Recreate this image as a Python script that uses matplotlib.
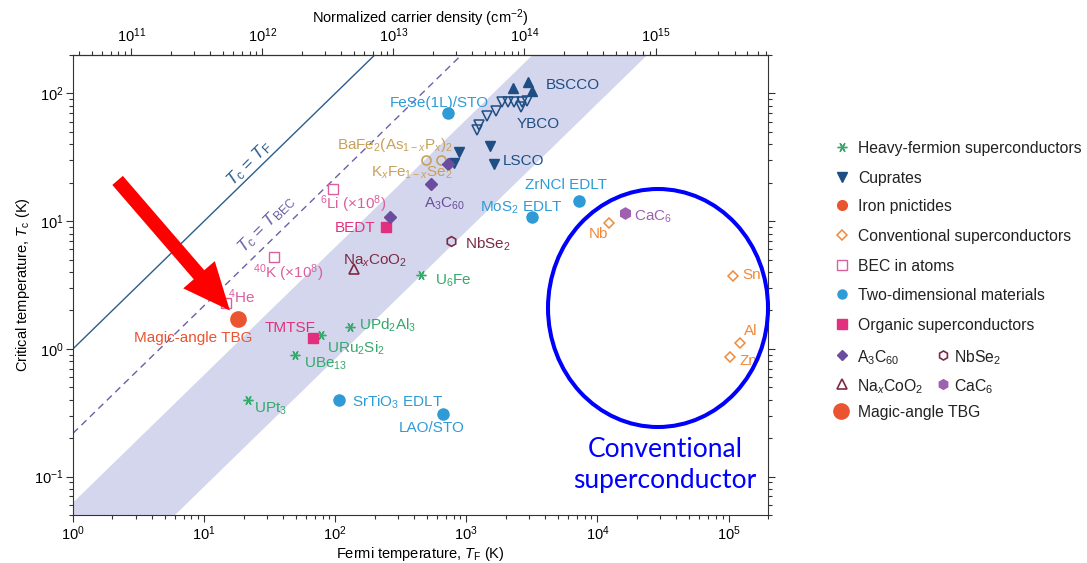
import numpy as np
import matplotlib
matplotlib.use('Agg')
import matplotlib.pyplot as plt
from matplotlib.patches import Ellipse

plt.rcParams['font.family'] = ['Liberation Sans', 'DejaVu Sans']
plt.rcParams['mathtext.fontset'] = 'custom'
plt.rcParams['mathtext.rm'] = 'Liberation Sans'
plt.rcParams['mathtext.it'] = 'Liberation Sans:italic'
plt.rcParams['mathtext.bf'] = 'Liberation Sans:bold'

# Fermi temperature T_F (K) and critical temperature Tc (K)
heavy_tf = [21.6, 49.5, 78, 130, 454]
heavy_tc = [0.40, 0.90, 1.29, 1.49, 3.79]

bscco_tf = [2285, 2933, 3147]
bscco_tc = [111, 122, 105]
ybco_tf = [1202, 1259, 1442, 1676, 1862, 2066, 2323, 2641, 2884, 2613]
ybco_tc = [52, 57, 67, 73, 85.5, 85.5, 85.5, 85.5, 88, 78]
lsco_tf = [800, 883, 1520, 1638]
lsco_tc = [28.5, 34.8, 38.5, 28.2]

pnictide_tf = [492, 637]
pnictide_tc = [30.3, 30.3]

conv_tf = [12200, 1.09e5, 1.23e5, 1.02e5]
conv_tc = [9.7, 3.72, 1.12, 0.87]

bec_tf = [96.8, 34.3, 14.7]
bec_tc = [17.7, 5.26, 2.27]

twod_tf = [723, 3147, 7250, 107, 663]
twod_tc = [70, 10.7, 14.4, 0.40, 0.31]

organic_tf = [242, 68]
organic_tc = [9.0, 1.22]

a3c60_tf = [264, 541, 723]
a3c60_tc = [10.7, 19.5, 27.9]

nbse2_tf, nbse2_tc = [768], [7.0]
naco_tf, naco_tc = [139], [4.2]
cac6_tf, cac6_tc = [16300], [11.6]
tbg_tf, tbg_tc = [18.0], [1.7]

# band of unconventional superconductors: Tc/T_F between these ratios
band_lo, band_hi = 1 / 120, 1 / 16
bec_ratio = 0.218
n_per_tf = 3.6e10   # cm^-2 per K
top_ticks = [1e11, 1e12, 1e13, 1e14, 1e15]

# colours
c_heavy = '#35a86b'
c_cup = '#1f4e84'
c_pnic = '#c8a05a'
c_conv = '#ef8a3c'
c_bec = '#dc5fa0'
c_2d = '#2e9bd6'
c_org = '#e3307e'
c_a3 = '#6c4c9c'
c_mar = '#7c2a44'
c_cac6 = '#a060b0'
c_tbg = '#ea5430'
c_tf = '#2b5d8c'
c_tbec = '#6d5fa3'

labels = [
    ('BSCCO', 4066, 120, c_cup, 'left'),
    ('YBCO', 2421, 59.7, c_cup, 'left'),
    ('LSCO', 1893, 30.3, c_cup, 'left'),
    ('FeSe(1L)/STO', 626, 86.6, c_2d, 'center'),
    ('BaFe$_2$(As$_{1-x}$P$_x$)$_2$', 102.6, 41.4, c_pnic, 'left'),
    ('K$_x$Fe$_{1-x}$Se$_2$', 189, 25.0, c_pnic, 'left'),
    ('A$_3$C$_{60}$', 683, 14.2, c_a3, 'center'),
    ('$^6$Li (\u00d710$^8$)', 76.7, 14.2, c_bec, 'left'),
    ('BEDT', 204, 9.03, c_org, 'right'),
    ('Na$_x$CoO$_2$', 202, 5.11, c_mar, 'center'),
    ('$^{40}$K (\u00d710$^8$)', 23.7, 4.14, c_bec, 'left'),
    ('$^4$He', 15.3, 2.64, c_bec, 'left'),
    ('Magic-angle TBG', 8.3, 1.25, c_tbg, 'center'),
    ('TMTSF', 45.4, 1.49, c_org, 'center'),
    ('URu$_2$Si$_2$', 86.6, 1.06, c_heavy, 'left'),
    ('UPd$_2$Al$_3$', 151.7, 1.59, c_heavy, 'left'),
    ('UBe$_{13}$', 57.9, 0.80, c_heavy, 'left'),
    ('UPt$_3$', 24.1, 0.354, c_heavy, 'left'),
    ('SrTiO$_3$ EDLT', 134, 0.40, c_2d, 'left'),
    ('LAO/STO', 544, 0.247, c_2d, 'center'),
    ('U$_6$Fe', 573, 3.57, c_heavy, 'left'),
    ('NbSe$_2$', 969, 6.89, c_mar, 'left'),
    ('MoS$_2$ EDLT', 2641, 13.3, c_2d, 'center'),
    ('ZrNCl EDLT', 5802, 19.7, c_2d, 'center'),
    ('CaC$_6$', 18970, 11.35, c_cac6, 'left'),
    ('Nb', 10110, 8.11, c_conv, 'center'),
    ('Sn', 1.277e5, 3.90, c_conv, 'left'),
    ('Al', 1.316e5, 1.41, c_conv, 'left'),
    ('Zn', 1.205e5, 0.82, c_conv, 'left'),
]

legend_rows = [
    ('Heavy-fermion superconductors', dict(marker=(6, 2, 90), color=c_heavy, ms=7, mew=1)),
    ('Cuprates', dict(marker='v', color=c_cup, ms=7)),
    ('Iron pnictides', dict(marker='o', color=c_tbg, ms=7)),
    ('Conventional superconductors', dict(marker='D', color=c_conv, mfc='none', ms=5.5, mew=1.1)),
    ('BEC in atoms', dict(marker='s', color=c_bec, mfc='none', ms=7, mew=1)),
    ('Two-dimensional materials', dict(marker='o', color=c_2d, ms=6.5)),
    ('Organic superconductors', dict(marker='s', color=c_org, ms=6.5)),
]
legend_pairs = [
    ('A$_3$C$_{60}$', dict(marker='D', color=c_a3, ms=5.5), 'NbSe$_2$', dict(marker='h', color=c_mar, mfc='none', ms=6.5, mew=1.2)),
    ('Na$_x$CoO$_2$', dict(marker='^', color=c_mar, mfc='none', ms=6.5, mew=1.2), 'CaC$_6$', dict(marker='h', color=c_cac6, ms=7)),
]

W, H = 1087, 563
fig = plt.figure(figsize=(W / 100, H / 100), dpi=100)
ax = fig.add_axes([73 / W, 1 - 515 / H, (768 - 73) / W, (515 - 55) / H])
ax.set_xscale('log')
ax.set_yscale('log')
ax.set_xlim(1, 2e5)
ax.set_ylim(0.05, 200)

xs = np.array([1, 2e5])
ax.fill_between(xs, xs * band_lo, xs * band_hi, color='#d3d6ec', lw=0, zorder=0)
ax.plot(xs, xs, color=c_tf, lw=1.0, zorder=1)
ax.plot(xs, xs * bec_ratio, color=c_tbec, lw=1.0, dashes=(5, 3.5), zorder=1)

ax.text(22, 28.5, '$T_{\\rm c}$ = $T_{\\rm F}$', color=c_tf, fontsize=12.5,
        rotation=45, ha='center', va='center', rotation_mode='anchor')
ax.text(30, 9.4, '$T_{\\rm c}$ = $T_{\\rm BEC}$', color=c_tbec, fontsize=12.5,
        rotation=45, ha='center', va='center', rotation_mode='anchor')

ax.plot(heavy_tf, heavy_tc, ls='none', marker=(6, 2, 90), color=c_heavy, ms=7, mew=1)
ax.plot(bscco_tf, bscco_tc, ls='none', marker='^', color=c_cup, ms=7.5)
ax.plot(ybco_tf, ybco_tc, ls='none', marker='v', color=c_cup, mfc='none', ms=7, mew=1.1)
ax.plot(lsco_tf, lsco_tc, ls='none', marker='v', color=c_cup, ms=7.5)
ax.plot(pnictide_tf, pnictide_tc, ls='none', marker='o', color=c_pnic, mfc='none', ms=6.5, mew=1.2)
ax.plot(conv_tf, conv_tc, ls='none', marker='D', color=c_conv, mfc='none', ms=5.5, mew=1.1)
ax.plot(bec_tf, bec_tc, ls='none', marker='s', color=c_bec, mfc='none', ms=7, mew=1)
ax.plot(twod_tf, twod_tc, ls='none', marker='o', color=c_2d, ms=8)
ax.plot(organic_tf, organic_tc, ls='none', marker='s', color=c_org, ms=7.5)
ax.plot(a3c60_tf, a3c60_tc, ls='none', marker='D', color=c_a3, ms=6)
ax.plot(nbse2_tf, nbse2_tc, ls='none', marker='h', color=c_mar, mfc='none', ms=7, mew=1.2)
ax.plot(naco_tf, naco_tc, ls='none', marker='^', color=c_mar, mfc='none', ms=7, mew=1.2)
ax.plot(cac6_tf, cac6_tc, ls='none', marker='h', color=c_cac6, ms=8)
ax.plot(tbg_tf, tbg_tc, ls='none', marker='o', color=c_tbg, ms=11)

for txt, x, y, col, ha in labels:
    ax.text(x, y, txt, color=col, fontsize=11, ha=ha, va='center_baseline')

# big red arrow pointing at TBG
ax.annotate('', xy=(tbg_tf[0], tbg_tc[0]), xytext=(-120, 139), textcoords='offset pixels',
            arrowprops=dict(arrowstyle='simple,head_length=34,head_width=30,tail_width=10',
                            mutation_scale=1, color='#ff0000', lw=0, shrinkA=0, shrinkB=8.5),
            zorder=6)

ax.set_xlabel('Fermi temperature, $T_{\\rm F}$ (K)', fontsize=10.5, labelpad=1)
ax.set_ylabel('Critical temperature, $T_{\\rm c}$ (K)', fontsize=10.5, labelpad=1)
ax.tick_params(which='both', direction='out', top=False, right=True, labelsize=10.5,
               width=0.8, color='#333333', pad=2)
ax.tick_params(which='major', length=5)
ax.tick_params(which='minor', length=3)
for s in ax.spines.values():
    s.set_linewidth(0.8)
    s.set_color('#333333')

sec = ax.secondary_xaxis('top', functions=(lambda t: t * n_per_tf, lambda n: n / n_per_tf))
sec.set_xticks(top_ticks)
sec.set_xlabel('Normalized carrier density (cm$^{-2}$)', fontsize=10.5, labelpad=3)
sec.tick_params(which='both', direction='out', labelsize=10.5, width=0.8, color='#333333', pad=2)
sec.tick_params(which='major', length=5)
sec.tick_params(which='minor', length=3)
sec.spines['top'].set_linewidth(0.8)

# legend drawn in figure pixel space
lax = fig.add_axes([0, 0, 1, 1])
lax.set_xlim(0, W)
lax.set_ylim(H, 0)
lax.axis('off')
lax.patch.set_visible(False)
row_y = [146.7, 176.7, 205, 235, 265, 294, 324]
for (txt, st), y in zip(legend_rows, row_y):
    lax.plot([842], [y], ls='none', **st)
    lax.text(858, y, txt, fontsize=11.3, va='center_baseline', color='#222222')
for (t1, s1, t2, s2), y in zip(legend_pairs, [355, 384]):
    lax.plot([842], [y], ls='none', **s1)
    lax.text(857, y, t1, fontsize=11.3, va='center_baseline', color='#222222')
    lax.plot([943], [y], ls='none', **s2)
    lax.text(954, y, t2, fontsize=11.3, va='center_baseline', color='#222222')
lax.plot([841], [411], ls='none', marker='o', color=c_tbg, ms=11)
lax.text(858, 411, 'Magic-angle TBG', fontsize=11.3, va='center_baseline', color='#222222')

# blue circle highlighting conventional superconductors
fig.add_artist(Ellipse((658 / W, 1 - 308 / H), 220 / W, 238 / H, fill=False,
                       edgecolor='#0000ff', lw=2.9, transform=fig.transFigure, zorder=7))
fig.text(665 / W, 1 - 465 / H, 'Conventional\nsuperconductor', color='#0000ff',
         fontsize=19, family='Lato', ha='center', va='center', linespacing=1.3)

fig.savefig('out.png', dpi=100)
